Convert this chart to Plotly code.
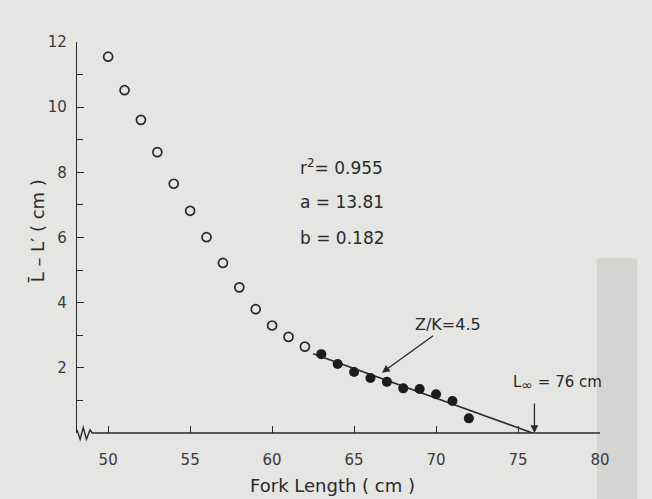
import plotly.graph_objects as go

# ---- data ----
open_length = [50, 51, 52, 53, 54, 55, 56, 57, 58, 59, 60, 61, 62]
open_diff = [11.55, 10.52, 9.61, 8.62, 7.65, 6.82, 6.01, 5.22, 4.47, 3.80, 3.30, 2.95, 2.65]
filled_length = [63, 64, 65, 66, 67, 68, 69, 70, 71, 72]
filled_diff = [2.42, 2.12, 1.87, 1.69, 1.57, 1.37, 1.35, 1.19, 0.98, 0.45]

fit_a = 13.81
fit_b = 0.182
fit_r2 = 0.955
fit_start = 62.5
L_inf = 76
ZK = 4.5

x_ticks = [50, 55, 60, 65, 70, 75, 80]
y_ticks = [2, 4, 6, 8, 10, 12]
x_title = "Fork Length ( cm )"
y_title = "L\u0304 \u2013 L\u2032 ( cm )"

BG = "rgb(229,229,227)"
INK = "#2a2a2a"
FONT = "'DejaVu Sans', sans-serif"

fit_x = [fit_start, L_inf]
fit_y = [fit_a - fit_b * v for v in fit_x]

fig = go.Figure()
fig.add_trace(go.Scatter(
    x=fit_x, y=fit_y, mode="lines",
    line=dict(color=INK, width=1.6), showlegend=False, hoverinfo="skip"))
fig.add_trace(go.Scatter(
    x=open_length, y=open_diff, mode="markers",
    marker=dict(symbol="circle-open", size=9, color=INK, line=dict(width=1.7)),
    showlegend=False))
fig.add_trace(go.Scatter(
    x=filled_length, y=filled_diff, mode="markers",
    marker=dict(symbol="circle", size=10, color="#1c1c1c"),
    showlegend=False))

x0 = 48.1
# x axis line after the break symbol (paper coords so it is not clipped)
fig.add_shape(type="line", xref="paper", yref="paper", x0=0.034, x1=1.0, y0=0, y1=0,
              line=dict(color=INK, width=1.4))
# axis break zigzag
fig.add_shape(type="path", xref="paper", yref="paper",
              path="M 0,0.008 L 0.006,-0.016 L 0.012,0.014 L 0.018,-0.016 L 0.025,0.008 L 0.029,0 L 0.034,0",
              line=dict(color=INK, width=1.4))
# scan strip on right edge
fig.add_shape(type="rect", xref="paper", yref="paper", x0=0.994, x1=1.071, y0=-0.18, y1=0.447,
              fillcolor="rgb(212,212,210)", line=dict(width=0), layer="below")

ann_font = dict(family=FONT, size=17, color=INK)
fig.add_annotation(x=61.6, y=8.16, xref="x", yref="y", xanchor="left", showarrow=False,
                   text=f"r<sup>2</sup>= {fit_r2:.3f}", font=ann_font)
fig.add_annotation(x=61.6, y=7.08, xref="x", yref="y", xanchor="left", showarrow=False,
                   text=f"a = {fit_a:.2f}", font=ann_font)
fig.add_annotation(x=61.6, y=6.0, xref="x", yref="y", xanchor="left", showarrow=False,
                   text=f"b = {fit_b:.3f}", font=ann_font)

# Z/K label with arrow
fig.add_annotation(x=66.7, y=1.85, ax=70.75, ay=3.32, axref="x", ayref="y",
                   xref="x", yref="y", text=f"Z/K={ZK}", showarrow=True,
                   font=dict(family=FONT, size=16, color=INK),
                   arrowhead=2, arrowsize=1.2, arrowwidth=1.3, arrowcolor=INK)

# L infinity label with arrow
fig.add_annotation(x=L_inf, y=0, ax=L_inf, ay=0.95, axref="x", ayref="y",
                   xref="x", yref="y", text="", showarrow=True,
                   arrowhead=2, arrowsize=1.2, arrowwidth=1.3, arrowcolor=INK)
fig.add_annotation(x=74.6, y=1.53, xref="x", yref="y", xanchor="left", showarrow=False,
                   text=f"L<sub><span style='font-size:14px'>∞</span></sub> = {L_inf} cm",
                   font=dict(family=FONT, size=15, color=INK))

# axis titles
fig.add_annotation(x=0.488, y=-0.134, xref="paper", yref="paper", showarrow=False,
                   xanchor="center", yanchor="middle",
                   text=x_title, font=dict(family=FONT, size=18, color=INK))
fig.add_annotation(x=-0.0765, y=0.516, xref="paper", yref="paper", showarrow=False,
                   xanchor="center", yanchor="middle",
                   text=y_title, textangle=-90, font=dict(family=FONT, size=18, color=INK))

fig.update_xaxes(
    range=[x0, 80], showline=False, showgrid=False, zeroline=False, automargin=False,
    tickmode="array", tickvals=x_ticks, ticktext=[str(v) for v in x_ticks],
    ticks="inside", ticklen=7, tickwidth=1.3, tickcolor=INK,
    tickfont=dict(family=FONT, size=15, color="#3a3a3a"), ticklabelstandoff=16,
)
fig.update_yaxes(
    range=[0, 12], showline=True, linecolor=INK, linewidth=1.4, showgrid=False, zeroline=False,
    automargin=False,
    tickmode="array", tickvals=y_ticks, ticktext=[str(v) for v in y_ticks],
    ticks="inside", ticklen=7, tickwidth=1.3, tickcolor=INK,
    minor=dict(dtick=1, ticks="inside", ticklen=6, tickwidth=1.3, tickcolor=INK, showgrid=False),
    tickfont=dict(family=FONT, size=15, color="#3a3a3a"), ticklabelstandoff=6,
)

fig.update_layout(
    width=652, height=499,
    margin=dict(l=77, r=52, t=42, b=66),
    paper_bgcolor=BG, plot_bgcolor=BG,
    showlegend=False,
)

fig.write_html(
    "out.html",
    config={"displayModeBar": False},
    post_script="document.body.style.margin='0';document.body.style.background='rgb(229,229,227)';",
)
